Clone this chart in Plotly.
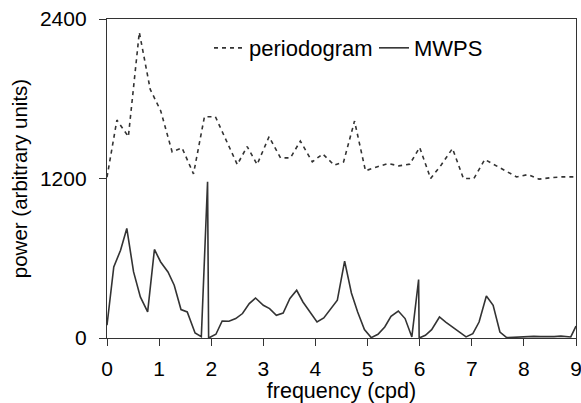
import plotly.graph_objects as go

# periodogram (dashed)
pg_x = [0.00, 0.19, 0.41, 0.62, 0.83, 1.03, 1.25, 1.44, 1.66, 1.87,
        2.08, 2.29, 2.50, 2.69, 2.88, 3.11, 3.33, 3.52, 3.71, 3.94,
        4.14, 4.36, 4.54, 4.75, 4.96, 5.19, 5.39, 5.60, 5.81, 6.00,
        6.21, 6.41, 6.63, 6.84, 7.04, 7.25, 7.46, 7.66, 7.86, 8.08,
        8.29, 8.49, 8.71, 8.91, 9.00]
pg_y = [1210, 1640, 1515, 2300, 1870, 1710, 1400, 1430, 1235, 1665,
        1665, 1490, 1305, 1440, 1305, 1515, 1355, 1355, 1482, 1325,
        1385, 1300, 1325, 1632, 1258, 1288, 1313, 1295, 1308, 1434,
        1200, 1300, 1426, 1200, 1200, 1343, 1300, 1258, 1212, 1230,
        1195, 1205, 1212, 1212, 1212]

# MWPS (solid)
mw_x = [0.00, 0.13, 0.26, 0.38, 0.51, 0.64, 0.78, 0.91, 1.03, 1.17,
        1.29, 1.42, 1.54, 1.69, 1.81, 1.93, 1.95, 2.09, 2.21, 2.34,
        2.47, 2.60, 2.73, 2.85, 3.00, 3.12, 3.25, 3.38, 3.51, 3.64,
        3.76, 3.89, 4.03, 4.16, 4.29, 4.42, 4.56, 4.69, 4.81, 4.94,
        5.07, 5.20, 5.33, 5.45, 5.59, 5.72, 5.85, 5.98, 5.99, 6.11,
        6.23, 6.38, 6.50, 6.63, 6.76, 6.89, 7.02, 7.14, 7.28, 7.41,
        7.54, 7.67, 7.80, 7.93, 8.06, 8.19, 8.32, 8.45, 8.58, 8.71,
        8.84, 8.90, 9.00]
mw_y = [96, 535, 660, 824, 497, 309, 196, 666, 572, 497,
        397, 214, 196, 38, 10, 1175, 0, 28, 128, 126,
        146, 184, 259, 301, 246, 221, 171, 188, 297, 359,
        271, 196, 120, 151, 214, 284, 578, 339, 196, 63,
        3, 28, 83, 163, 203, 146, 8, 440, 0, 20,
        63, 158, 120, 83, 45, 8, 33, 120, 316, 246,
        45, 3, 5, 8, 10, 12, 10, 8, 10, 14,
        12, 8, 90]

x_ticks = [0, 1, 2, 3, 4, 5, 6, 7, 8, 9]
x_tick_labels = ["0", "1", "2", "3", "4", "5", "6", "7", "8", "9"]
y_ticks = [0, 1200, 2400]
y_tick_labels = ["0", "1200", "2400"]

FONT = "Liberation Sans, Arial, sans-serif"
LINE = "#333333"

fig = go.Figure()
fig.add_trace(go.Scatter(
    x=pg_x, y=pg_y, mode="lines", name="periodogram",
    line=dict(color=LINE, width=1.6, dash="4px,4px"),
))
fig.add_trace(go.Scatter(
    x=mw_x, y=mw_y, mode="lines", name="MWPS",
    line=dict(color=LINE, width=1.6),
))

fig.update_layout(
    width=581, height=403,
    margin=dict(l=107, r=5, t=19, b=65, autoexpand=False),
    paper_bgcolor="white", plot_bgcolor="white",
    font=dict(family=FONT, size=20, color="black"),
    showlegend=True,
    legend=dict(
        orientation="h", x=(209 - 107) / 469, y=0.909, xanchor="left", yanchor="middle",
        bgcolor="rgba(0,0,0,0)", font=dict(family=FONT, size=22, color="black"),
        itemwidth=30, tracegroupgap=0, entrywidth=120, entrywidthmode="pixels",
    ),
    xaxis=dict(
        range=[0, 9], tickmode="array", tickvals=x_ticks, ticktext=x_tick_labels,
        showgrid=False, zeroline=False, showline=True, linecolor="#333333",
        linewidth=1.3, mirror=True, ticks="outside", ticklen=7, tickwidth=1.3,
        tickcolor="#333333", tickfont=dict(family=FONT, size=21),
        ticklabeloverflow="allow", automargin=False, ticklabelstandoff=5,
        title=dict(text="frequency (cpd)", font=dict(family=FONT, size=21.5), standoff=3),
    ),
    yaxis=dict(
        range=[0, 2400], tickmode="array", tickvals=y_ticks, ticktext=y_tick_labels,
        showgrid=False, zeroline=False, showline=True, linecolor="#333333",
        linewidth=1.3, mirror=True, ticks="outside", ticklen=7, tickwidth=1.3,
        tickcolor="#333333", tickfont=dict(family=FONT, size=21),
        ticklabeloverflow="allow", automargin=False, ticklabelstandoff=8,
        title=dict(text="power (arbitrary units)", font=dict(family=FONT, size=20.5), standoff=6),
    ),
)

fig.write_html(
    "out.html",
    config={"displayModeBar": False},
    post_script="document.body.style.margin='0';document.body.style.padding='0';",
)
